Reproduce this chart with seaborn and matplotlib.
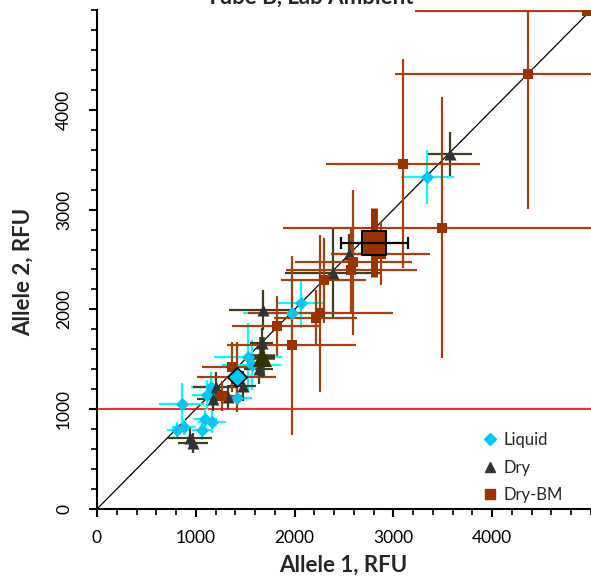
import numpy as np
import pandas as pd
import matplotlib
matplotlib.use("Agg")
import matplotlib.pyplot as plt
from matplotlib.lines import Line2D
from matplotlib.ticker import MultipleLocator
import seaborn as sns

# ---------------- data ----------------
liquid_x    = [3343, 2060, 1970, 1525, 1565, 1151, 1111, 1414, 858, 879, 808, 1161, 1091, 1060]
liquid_y    = [3330, 2060, 1960, 1520, 1440, 1220, 1140, 1110, 1050, 820, 790, 870, 900, 790]
liquid_xerr = [270, 235, 490, 345, 300, 200, 150, 150, 230, 120, 100, 140, 120, 100]
liquid_yerr = [270, 245, 490, 340, 250, 150, 150, 100, 210, 80, 80, 110, 100, 100]
liquid_mean = [1414, 1320]

dry_x    = [3575, 2555, 2384, 1677, 1667, 1636, 1475, 1202, 1172, 1323, 940, 970]
dry_y    = [3560, 2560, 2360, 1990, 1660, 1400, 1230, 1220, 1100, 1120, 710, 660]
dry_xerr = [222, 190, 485, 340, 115, 150, 135, 230, 160, 150, 225, 150]
dry_yerr = [220, 200, 450, 200, 150, 150, 150, 150, 120, 120, 110, 100]
dry_mean = [1667, 1520]
dry_mean_err = [130, 200]

bm_x    = [4960, 4363, 3100, 3495, 2870, 2596, 2575, 2293, 2262, 2212, 1818, 1970, 1364, 1414, 1263]
bm_y    = [4990, 4360, 3460, 2820, 2560, 2470, 2390, 2290, 1960, 1910, 1830, 1640, 1420, 1320, 1130]
bm_xerr = [1740, 1345, 780, 1616, 500, 590, 660, 430, 730, 420, 450, 650, 300, 400, 200]
bm_yerr = [0, 1350, 1050, 1310, 320, 730, 420, 430, 790, 280, 300, 900, 250, 350, 150]
bm_mean = [2808, 2670]
bm_mean_err = [340, 350]

series_names = ["Liquid", "Dry", "Dry-BM"]
x_ticks = [0, 1000, 2000, 3000, 4000]
y_ticks = [0, 1000, 2000, 3000, 4000]
threshold = 1000

# ---------------- styling ----------------
c_liq, c_liq_err = "#00C8F5", "#00FFFF"
c_dry, c_dry_err = "#333333", "#3F3F1F"
c_bm, c_bm_err = "#993300", "#A8400E"

sns.set_theme(style="white")
plt.rcParams["font.family"] = ["Lato", "DejaVu Sans"]

fig = plt.figure(figsize=(5.91, 5.78), dpi=100)
ax = fig.add_axes([97 / 591, 69 / 578, 494 / 591, 499 / 578])

# reference lines
ax.plot([0, 5000], [0, 5000], color="black", lw=0.9, zorder=1)
ax.axhline(threshold, color="#FF0000", lw=1.2, zorder=1)

# error bars
ax.errorbar(liquid_x, liquid_y, xerr=liquid_xerr, yerr=liquid_yerr, fmt="none",
            ecolor=c_liq_err, elinewidth=1.6, capsize=0, zorder=2)
ax.errorbar(dry_x, dry_y, xerr=dry_xerr, yerr=dry_yerr, fmt="none",
            ecolor=c_dry_err, elinewidth=1.6, capsize=0, zorder=2)
ax.errorbar(bm_x, bm_y, xerr=bm_xerr, yerr=bm_yerr, fmt="none",
            ecolor=c_bm_err, elinewidth=1.6, capsize=0, zorder=2)
# mean error bars
ax.errorbar([dry_mean[0]], [dry_mean[1]], xerr=[dry_mean_err[0]], yerr=[dry_mean_err[1]],
            fmt="none", ecolor=c_dry_err, elinewidth=4, capsize=0, zorder=2)
ax.errorbar([bm_mean[0]], [bm_mean[1]], yerr=[bm_mean_err[1]], fmt="none",
            ecolor=c_bm, elinewidth=5, capsize=0, zorder=2)
ax.errorbar([bm_mean[0]], [bm_mean[1]], xerr=[bm_mean_err[0]], fmt="none",
            ecolor="black", elinewidth=1.6, capsize=4, capthick=1.6, zorder=5)

# points
df = pd.DataFrame({
    "x": liquid_x + dry_x + bm_x,
    "y": liquid_y + dry_y + bm_y,
    "series": ["Liquid"] * len(liquid_x) + ["Dry"] * len(dry_x) + ["Dry-BM"] * len(bm_x),
})
markers = {"Liquid": "D", "Dry": "^", "Dry-BM": "s"}
palette = {"Liquid": c_liq, "Dry": c_dry, "Dry-BM": c_bm}
for name, size in zip(series_names, [45, 75, 60]):
    sub = df[df["series"] == name]
    sns.scatterplot(data=sub, x="x", y="y", marker=markers[name], color=palette[name],
                    s=size, linewidth=0, ax=ax, legend=False, zorder=3)

# means
sns.scatterplot(x=[liquid_mean[0]], y=[liquid_mean[1]], marker="D", color=c_liq, s=95,
                edgecolor="black", linewidth=1.2, ax=ax, legend=False, zorder=4)
sns.scatterplot(x=[dry_mean[0]], y=[dry_mean[1]], marker="^", color="#333300", s=190,
                linewidth=0, ax=ax, legend=False, zorder=4)
sns.scatterplot(x=[bm_mean[0]], y=[bm_mean[1]], marker="s", color=c_bm, s=290,
                edgecolor="black", linewidth=1.5, ax=ax, legend=False, zorder=4)

# axes
ax.set_xlim(0, 5000)
ax.set_ylim(0, 5000)
ax.set_xticks(x_ticks)
ax.set_yticks(y_ticks)
ax.xaxis.set_minor_locator(MultipleLocator(200))
ax.yaxis.set_minor_locator(MultipleLocator(200))
for s in ["top", "right"]:
    ax.spines[s].set_visible(False)
for s in ["left", "bottom"]:
    ax.spines[s].set_color("black")
    ax.spines[s].set_linewidth(1.5)
ax.tick_params(axis="both", which="major", direction="out", length=6, width=1.5,
               color="black", labelsize=12.5, labelcolor="black", bottom=True, left=True)
ax.tick_params(axis="both", which="minor", direction="out", length=4, width=1.2,
               color="black", bottom=True, left=True)
ax.tick_params(axis="x", which="major", pad=9)
ax.tick_params(axis="y", which="major", pad=12)
for lab in ax.get_yticklabels():
    lab.set_rotation(90)
    lab.set_va("center")

ax.set_xlabel("")
ax.set_ylabel("")
fig.text(343 / 591, 1 - 565 / 578, "Allele 1, RFU", ha="center", va="center",
         fontsize=16, fontweight="bold")
fig.text(23 / 591, 1 - 272 / 578, "Allele 2, RFU", ha="center", va="center",
         rotation=90, fontsize=16, fontweight="bold")
fig.text(310 / 591, 1 - 4 / 578, "Tube B, Lab Ambient", ha="center", va="baseline",
         fontsize=16, fontweight="bold")

# legend
handles = [
    Line2D([], [], ls="none", marker="D", color=c_liq, markersize=6),
    Line2D([], [], ls="none", marker="^", color=c_dry, markersize=7),
    Line2D([], [], ls="none", marker="s", color=c_bm, markersize=7),
]
ax.legend(handles, series_names, loc="upper left", bbox_to_anchor=(0.765, 0.168),
          frameon=False, fontsize=12, handlelength=1.0, handletextpad=0.3,
          labelspacing=0.7, borderaxespad=0)

fig.savefig("out.png", dpi=100)
